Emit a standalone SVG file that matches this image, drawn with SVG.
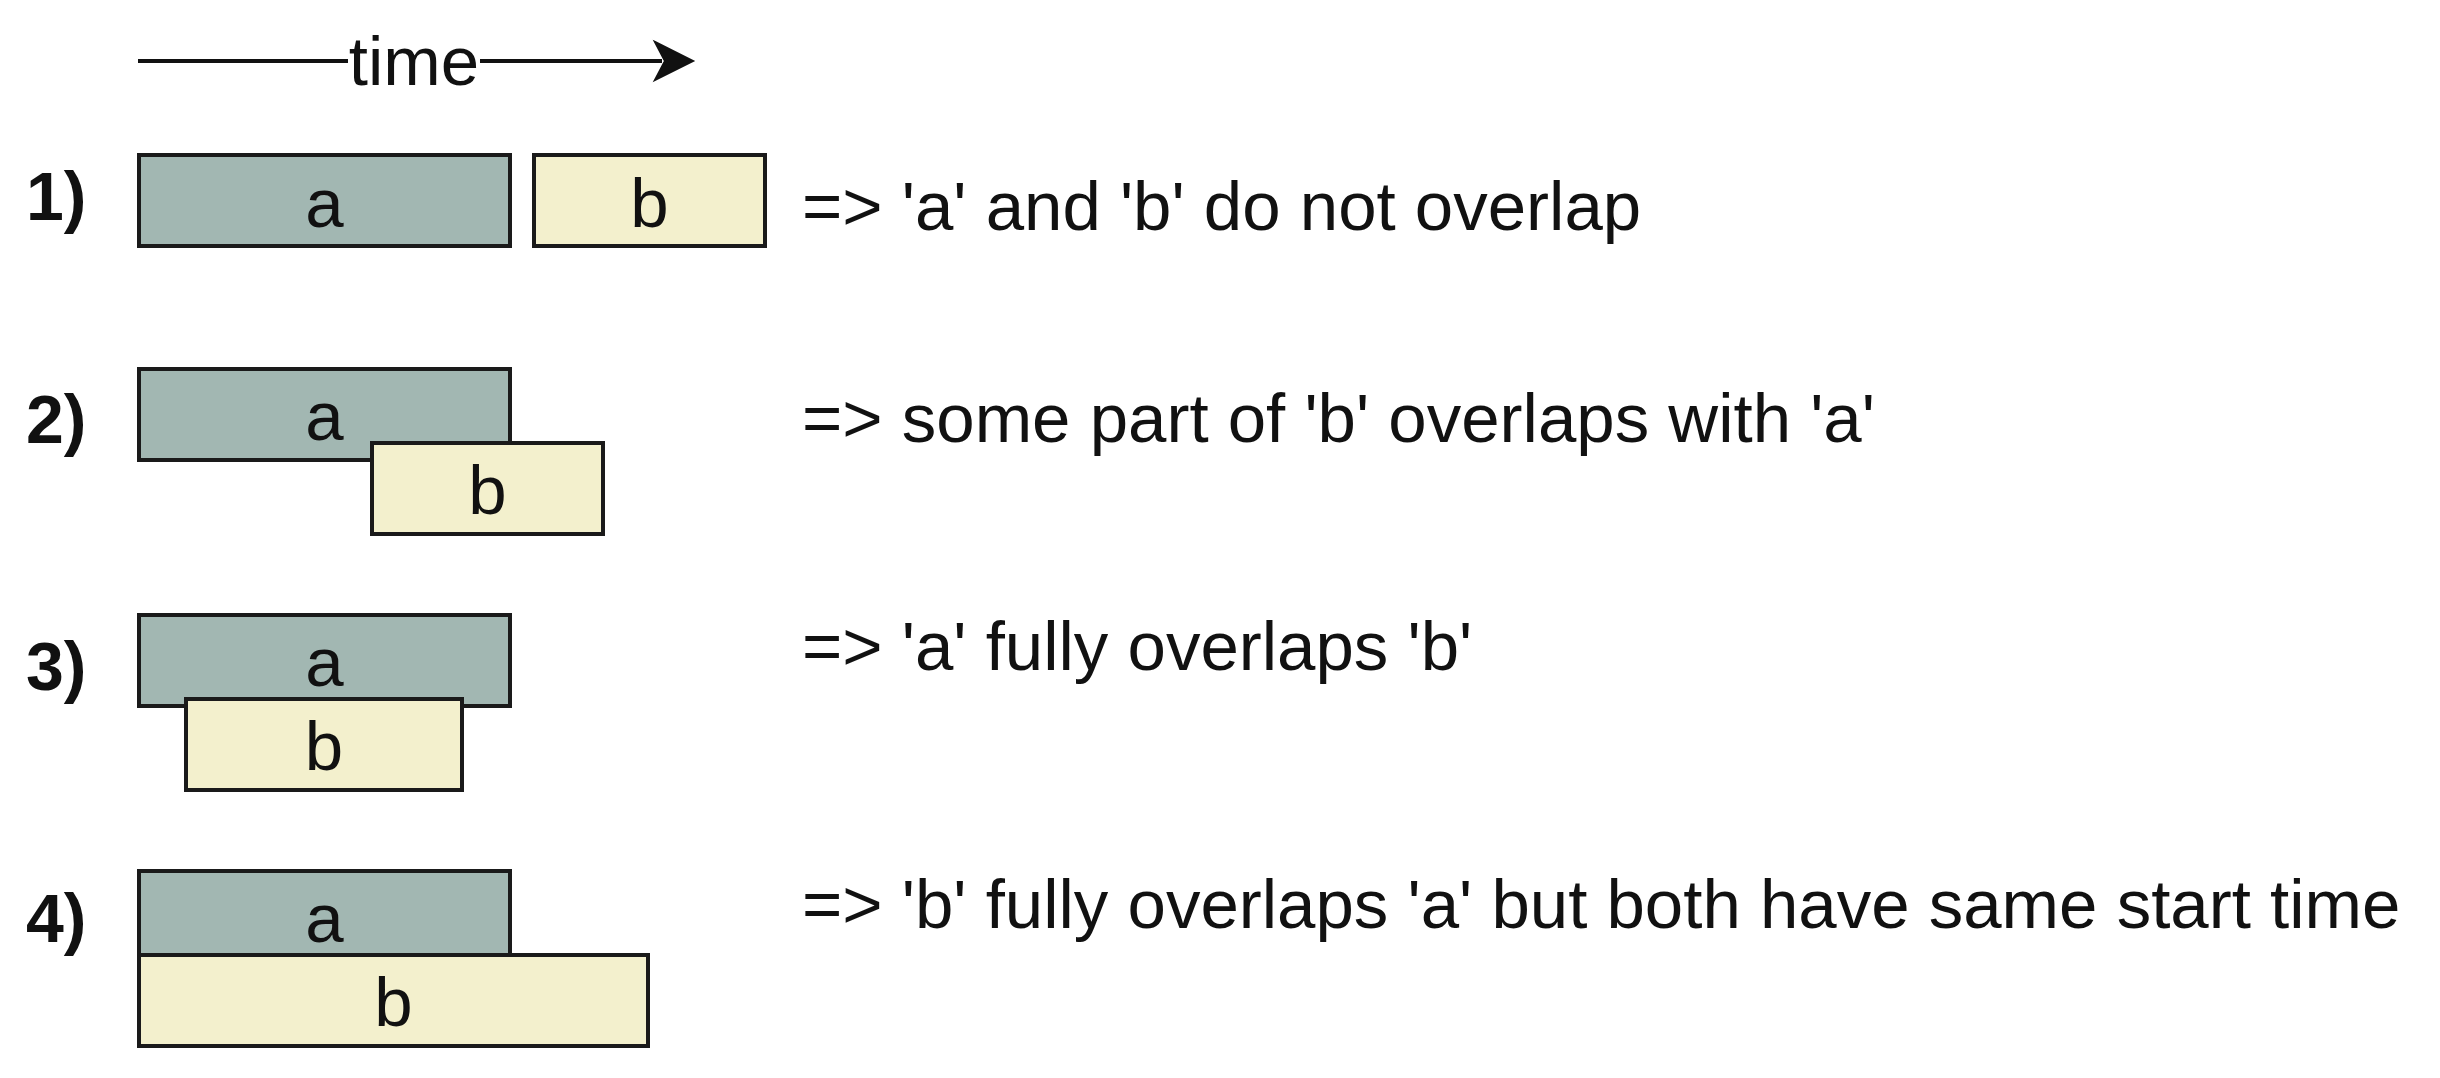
<svg xmlns="http://www.w3.org/2000/svg" width="2440" height="1078" viewBox="0 0 2440 1078">
<style>
  .a { fill: #a2b7b2; stroke: #1a1a1a; stroke-width: 4; }
  .b { fill: #f3f0cd; stroke: #1a1a1a; stroke-width: 4; }
  .lbl { font-family: "Liberation Sans", Arial, sans-serif; font-size: 69px; fill: #111; text-anchor: middle; }
  .txt { font-family: "Liberation Sans", Arial, sans-serif; font-size: 69px; fill: #111; }
  .num { font-family: "Liberation Sans", Arial, sans-serif; font-size: 68px; font-weight: bold; fill: #111; }
</style>
<rect x="0" y="0" width="2440" height="1078" fill="#ffffff"/>
<g id="connectors">
  <path d="M138,61 L662,61" stroke="#111" stroke-width="4" fill="none"/>
  <path d="M655,42 L693,61 L655,80 L665,61 Z" fill="#111" stroke="#111" stroke-width="2" stroke-linejoin="miter"/>
  <rect x="348" y="40" width="132" height="50" fill="#ffffff"/>
  <text class="lbl" x="414" y="85">time</text>
</g>
<g id="row1">
  <text class="num" x="26" y="220">1)</text>
  <g id="r1-a"><rect class="a" x="139" y="155" width="371" height="91"/><text class="lbl" x="324.5" y="227">a</text></g>
  <g id="r1-b"><rect class="b" x="534" y="155" width="231" height="91"/><text class="lbl" x="649.5" y="227">b</text></g>
  <text class="txt" x="802" y="230">=&gt; 'a' and 'b' do not overlap</text>
</g>
<g id="row2">
  <text class="num" x="26" y="443">2)</text>
  <g id="r2-a"><rect class="a" x="139" y="369" width="371" height="91"/><text class="lbl" x="324.5" y="440">a</text></g>
  <g id="r2-b"><rect class="b" x="372" y="443" width="231" height="91"/><text class="lbl" x="487.5" y="514">b</text></g>
  <text class="txt" x="802" y="442">=&gt; some part of 'b' overlaps with 'a'</text>
</g>
<g id="row3">
  <text class="num" x="26" y="690">3)</text>
  <g id="r3-a"><rect class="a" x="139" y="615" width="371" height="91"/><text class="lbl" x="324.5" y="686">a</text></g>
  <g id="r3-b"><rect class="b" x="186" y="699" width="276" height="91"/><text class="lbl" x="324" y="770">b</text></g>
  <text class="txt" x="802" y="670">=&gt; 'a' fully overlaps 'b'</text>
</g>
<g id="row4">
  <text class="num" x="26" y="942">4)</text>
  <g id="r4-a"><rect class="a" x="139" y="871" width="371" height="91"/><text class="lbl" x="324.5" y="942">a</text></g>
  <g id="r4-b"><rect class="b" x="139" y="955" width="509" height="91"/><text class="lbl" x="393.5" y="1026">b</text></g>
  <text class="txt" x="802" y="928">=&gt; 'b' fully overlaps 'a' but both have same start time</text>
</g>
</svg>
